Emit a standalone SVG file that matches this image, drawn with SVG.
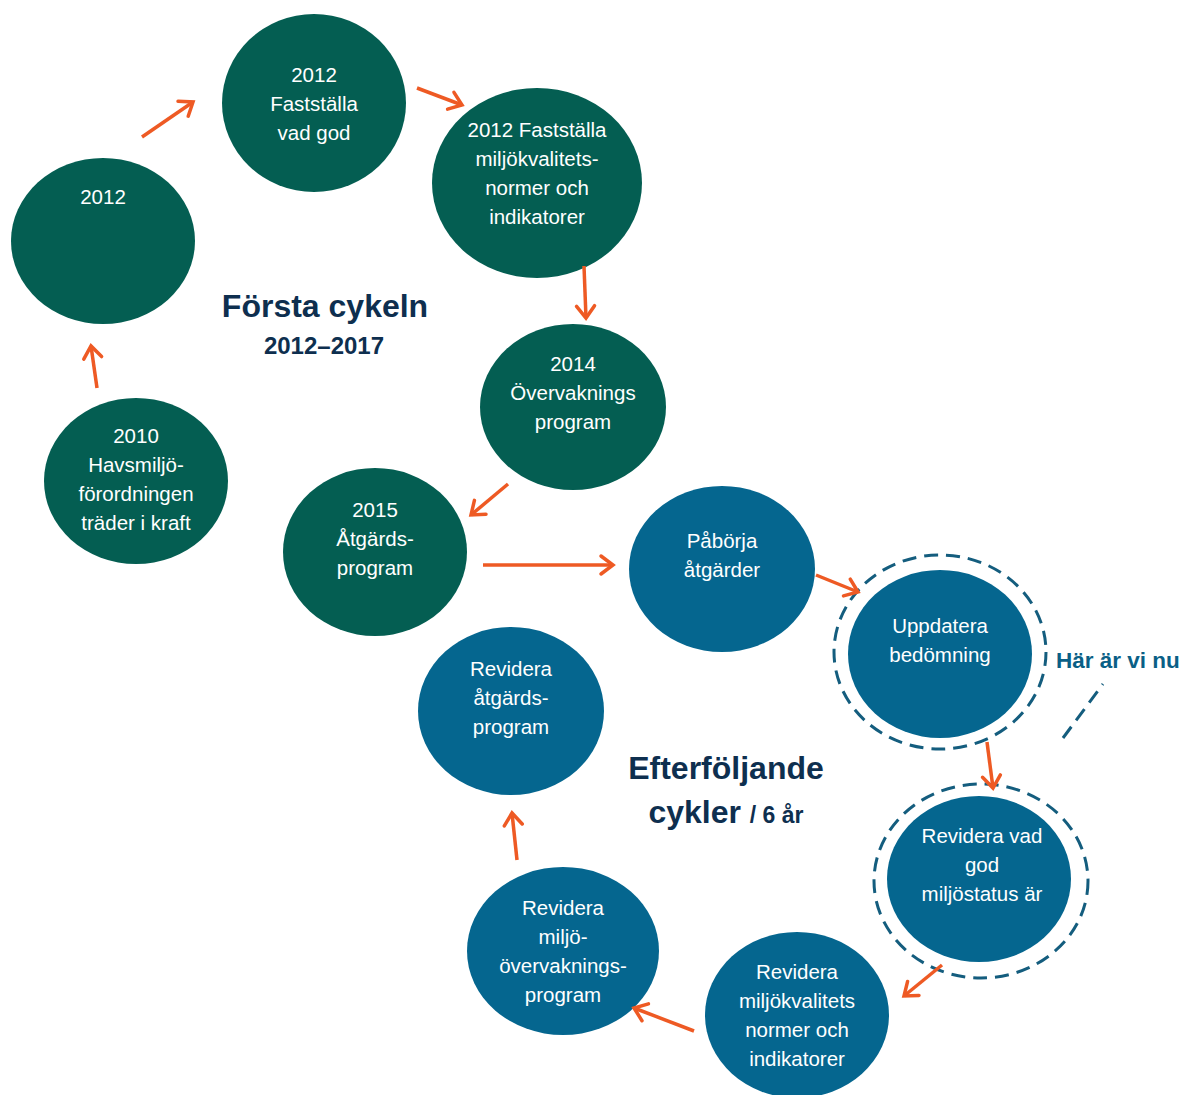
<svg xmlns="http://www.w3.org/2000/svg" width="1186" height="1095" viewBox="0 0 1186 1095">
<defs>
<style>
.g{fill:#045E52}
.b{fill:#05668F}
.t{font-family:"Liberation Sans",Arial,sans-serif;font-size:20.5px;fill:#fff;text-anchor:middle}
.h{font-family:"Liberation Sans",Arial,sans-serif;font-weight:bold;fill:#0E2F4F;text-anchor:middle}
.d{fill:none;stroke:#145D7E;stroke-width:3;stroke-dasharray:14 8}
.c{fill:none;stroke:#EE5A24;stroke-width:3.5;marker-end:url(#ah)}
</style>
<marker id="ah" viewBox="-15 -12 18 24" refX="0" refY="0" markerWidth="18" markerHeight="24" markerUnits="userSpaceOnUse" orient="auto">
<path d="M-12,-9 L0,0 L-12,9" fill="none" stroke="#EE5A24" stroke-width="3.5" stroke-linecap="round"/>
</marker>
</defs>
<rect width="1186" height="1095" fill="#fff"/>

<g id="n2012a"><ellipse class="g" cx="103" cy="241" rx="92" ry="83"/><text class="t" x="103" y="204">2012</text></g>
<g id="n2012b"><ellipse class="g" cx="314" cy="103" rx="92" ry="89"/><text class="t" x="314" y="82">2012</text><text class="t" x="314" y="111">Fastställa</text><text class="t" x="314" y="140">vad god</text></g>
<g id="n2012c"><ellipse class="g" cx="537" cy="183" rx="105" ry="95"/><text class="t" x="537" y="137">2012 Fastställa</text><text class="t" x="537" y="166">miljökvalitets-</text><text class="t" x="537" y="195">normer och</text><text class="t" x="537" y="224">indikatorer</text></g>
<g id="n2014"><ellipse class="g" cx="573" cy="407" rx="93" ry="83"/><text class="t" x="573" y="371">2014</text><text class="t" x="573" y="400">Övervaknings</text><text class="t" x="573" y="429">program</text></g>
<g id="n2015"><ellipse class="g" cx="375" cy="552" rx="92" ry="84"/><text class="t" x="375" y="517">2015</text><text class="t" x="375" y="546">Åtgärds-</text><text class="t" x="375" y="575">program</text></g>
<g id="n2010"><ellipse class="g" cx="136" cy="481" rx="92" ry="83"/><text class="t" x="136" y="443">2010</text><text class="t" x="136" y="472">Havsmiljö-</text><text class="t" x="136" y="501">förordningen</text><text class="t" x="136" y="530">träder i kraft</text></g>
<g id="nPaborja"><ellipse class="b" cx="722" cy="569" rx="93" ry="83"/><text class="t" x="722" y="548">Påbörja</text><text class="t" x="722" y="577">åtgärder</text></g>
<g id="nUppdatera"><ellipse class="d" cx="940" cy="652" rx="106" ry="97"/><ellipse class="b" cx="940" cy="654" rx="92" ry="84"/><text class="t" x="940" y="633">Uppdatera</text><text class="t" x="940" y="662">bedömning</text></g>
<g id="nRevVad"><ellipse class="d" cx="981" cy="881" rx="107" ry="97"/><ellipse class="b" cx="979" cy="879" rx="92" ry="83"/><text class="t" x="982" y="843">Revidera vad</text><text class="t" x="982" y="872">god</text><text class="t" x="982" y="901">miljöstatus är</text></g>
<g id="nRevMkn"><ellipse class="b" cx="797" cy="1015" rx="92" ry="83"/><text class="t" x="797" y="979">Revidera</text><text class="t" x="797" y="1008">miljökvalitets</text><text class="t" x="797" y="1037">normer och</text><text class="t" x="797" y="1066">indikatorer</text></g>
<g id="nRevMov"><ellipse class="b" cx="563" cy="951" rx="96" ry="84"/><text class="t" x="563" y="915">Revidera</text><text class="t" x="563" y="944">miljö-</text><text class="t" x="563" y="973">övervaknings-</text><text class="t" x="563" y="1002">program</text></g>
<g id="nRevAtg"><ellipse class="b" cx="511" cy="711" rx="93" ry="84"/><text class="t" x="511" y="676">Revidera</text><text class="t" x="511" y="705">åtgärds-</text><text class="t" x="511" y="734">program</text></g>

<g id="labels">
<text class="h" x="325" y="317" font-size="32">Första cykeln</text>
<text class="h" x="324" y="354" font-size="24">2012–2017</text>
<text class="h" x="726" y="779" font-size="32">Efterföljande</text>
<text class="h" x="726" y="823" font-size="32">cykler <tspan font-size="23">/ 6 år</tspan></text>
<text x="1056" y="668" font-family="Liberation Sans, Arial, sans-serif" font-weight="bold" font-size="22.5" fill="#0A5F86">Här är vi nu</text>
<line x1="1063" y1="738" x2="1103" y2="684" class="d" stroke-dasharray="12 8"/>
</g>

<g id="connectors">
<line class="c" x1="97" y1="388" x2="91" y2="346"/>
<line class="c" x1="142" y1="137" x2="193" y2="102"/>
<line class="c" x1="417" y1="88" x2="462" y2="105"/>
<line class="c" x1="584" y1="266" x2="586" y2="318"/>
<line class="c" x1="508" y1="484" x2="471" y2="515"/>
<line class="c" x1="483" y1="565" x2="613" y2="565"/>
<line class="c" x1="816" y1="575" x2="858" y2="592"/>
<line class="c" x1="987" y1="742" x2="993" y2="788"/>
<line class="c" x1="942" y1="965" x2="904" y2="996"/>
<line class="c" x1="694" y1="1031" x2="634" y2="1008"/>
<line class="c" x1="517" y1="860" x2="512" y2="813"/>
</g>
</svg>
